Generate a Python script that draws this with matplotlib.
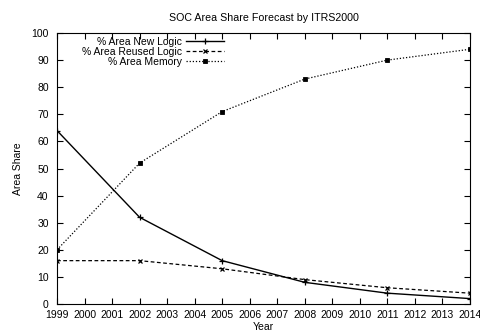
import numpy as np
import matplotlib
matplotlib.use('Agg')
import matplotlib.pyplot as plt

# Data
years = [1999, 2002, 2005, 2008, 2011, 2014]
new_logic = [64, 32, 16, 8, 4, 2]
reused_logic = [16, 16, 13, 9, 6, 4]
memory = [20, 52, 71, 83, 90, 94]

plt.rcParams['font.family'] = ['Liberation Sans', 'DejaVu Sans']
fs = 7.5

fig = plt.figure(figsize=(4.81, 3.32), dpi=100)
ax = fig.add_axes([0.1185, 0.0843, 0.8585, 0.8163])

ax.plot(years, new_logic, color='black', lw=1.0, ls='-', marker='+', ms=4, mew=0.9,
        label='% Area New Logic')
ax.plot(years, reused_logic, color='black', lw=0.9, ls=(0, (3, 2)), marker='x', ms=3.5, mew=0.9,
        label='% Area Reused Logic')
ax.plot(years, memory, color='black', lw=0.9, ls=(0, (1, 1.5)), marker='s', ms=2.5, mew=0.6,
        label='% Area Memory')

ax.set_xlim(1999, 2014)
ax.set_ylim(0, 100)
ax.set_xticks(np.arange(1999, 2015))
ax.set_yticks(np.arange(0, 101, 10))
ax.tick_params(direction='in', top=True, right=True, labelsize=fs, length=4, width=0.8)
ax.tick_params(axis='y', pad=6)
ax.tick_params(axis='x', pad=4)
for s in ax.spines.values():
    s.set_linewidth(0.8)

ax.set_title('SOC Area Share Forecast by ITRS2000', fontsize=7.7, pad=9)
ax.set_xlabel('Year', fontsize=fs, labelpad=2)
ax.set_ylabel('Area Share', fontsize=fs, labelpad=6)

leg = ax.legend(loc='upper right', bbox_to_anchor=(0.405, 0.985), frameon=False, fontsize=fs,
                markerfirst=False, handlelength=3.7, handletextpad=0.4, labelspacing=0.0,
                borderaxespad=0.0, borderpad=0.0)
for t in leg.get_texts():
    t.set_ha('right')
leg._legend_box.align = 'right'

fig.savefig('out.png', dpi=100)
